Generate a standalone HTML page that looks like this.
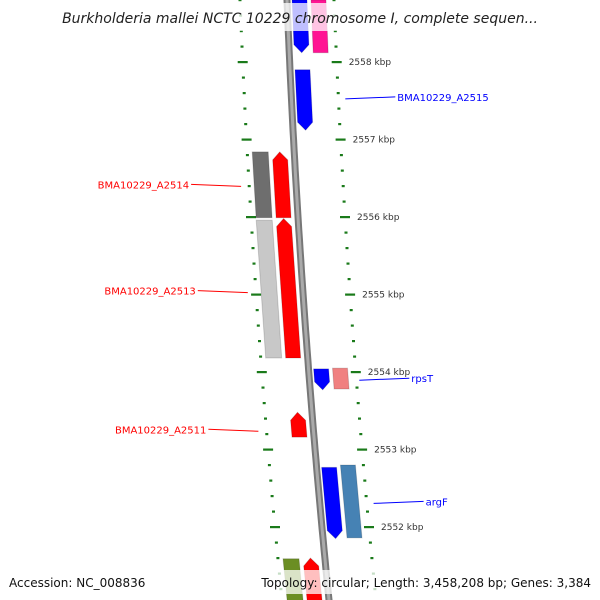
<!DOCTYPE html>
<html><head><meta charset="utf-8"><style>
html,body{margin:0;padding:0;background:#fff}
svg{display:block;font-family:"DejaVu Sans","Liberation Sans",sans-serif}
</style></head><body>
<svg id="map" width="600" height="600" viewBox="0 0 600 600" xmlns="http://www.w3.org/2000/svg">
<g id="ticks"></g>
<g id="backbone"></g>
<g id="features"></g>
<g id="labels"></g>
<rect x="0" y="3" width="600" height="28" fill="#fff" opacity="0.75"/>
<text x="300" y="23" text-anchor="middle" font-size="14" font-style="italic" fill="#222">Burkholderia mallei NCTC 10229 chromosome I, complete sequen...</text>
<rect x="0" y="570" width="600" height="24" fill="#fff" opacity="0.75"/>
<text x="9" y="587" font-size="12" fill="#111">Accession: NC_008836</text>
<text x="591" y="587" text-anchor="end" font-size="12" fill="#111">Topology: circular; Length: 3,458,208 bp; Genes: 3,384</text>
</svg>
<script>
// data
const geneNames = ["top-blue","top-magenta","BMA10229_A2515","grey-a","BMA10229_A2514","grey-b","BMA10229_A2513","rpsT","rpsT-partner","BMA10229_A2511","argF","argF-partner","olive","bottom-red"];
const geneStart = [2558.8,2558.8,2557.90,2556.84,2556.84,2555.96,2555.98,2554.04,2554.05,2553.48,2552.77,2552.80,2551.59,2551.60];
const geneEnd   = [2558.12,2558.12,2557.12,2555.99,2555.99,2554.18,2554.18,2553.77,2553.78,2553.16,2551.85,2551.86,2551.0,2551.0];
const geneTrack = [0,1,0,3,2,3,2,0,1,2,0,1,3,2];
const geneDir   = [-1,0,-1,0,1,0,1,-1,0,1,-1,0,0,1];
const geneColor = ["#0000ff","#ff1493","#0000ff","#6e6e6e","#ff0000","#c8c8c8","#ff0000","#0000ff","#f08080","#ff0000","#0000ff","#4682b4","#6b8e23","#ff0000"];
const labelText = ["BMA10229_A2515","BMA10229_A2514","BMA10229_A2513","BMA10229_A2511","rpsT","argF"];
const labelKbp  = [2557.55,2556.42,2555.05,2553.26,2553.92,2552.33];
const labelSide = [1,-1,-1,-1,1,1];
const labelColor= ["#0000ff","#ff0000","#ff0000","#ff0000","#0000ff","#0000ff"];
const majorTicks = [2558,2557,2556,2555,2554,2553,2552];

const NS="http://www.w3.org/2000/svg";
function yOf(k){return 62+(2558-k)*77.5;}
function xc(y){return 287+0.04*y+0.00005*y*y;}
function mk(tag,attrs,parent){const e=document.createElementNS(NS,tag);for(const a in attrs)e.setAttribute(a,attrs[a]);parent.appendChild(e);return e;}
const trackOff=[[5,20],[24,39],[-22,-7],[-42,-26]];

// backbone
const bb=document.getElementById('backbone');
let d="";for(let y=-10;y<=610;y+=10){d+=(y<0?"M":"L")+xc(y).toFixed(1)+","+y;}
let p=mk('path',{d:d,stroke:'#777',"stroke-width":7,fill:'none'},bb);

p=mk('path',{d:d,stroke:'#aaa',"stroke-width":3,fill:'none'},bb);


// ticks
const tg=document.getElementById('ticks');
for(let i=0;i<=45;i++){
  const k=2551+i*0.2; const y=yOf(k); if(y<-5||y>605)continue;
  const major=majorTicks.some(m=>Math.abs(m-k)<0.01);
  const w=major?10:3;
  for(const s of [-1,1]){
    const x=xc(y)+s*47;
    const t=mk('rect',{x:(x-w/2).toFixed(1),y:(y-1).toFixed(1),width:w,height:2.2,fill:'#1a7a1a'},tg);
    
    
  }
}
majorTicks.forEach(m=>{
  const y=yOf(m);
  const t=mk('text',{x:(xc(y)+59).toFixed(1),y:(y+3).toFixed(1),"font-size":9,fill:'#333'},tg);
  t.textContent=m+" kbp";
  
  
});

// features
const fg=document.getElementById('features');
geneNames.forEach((n,i)=>{
  const y1=Math.max(yOf(geneStart[i]),-5), y2=Math.min(yOf(geneEnd[i]),605);
  const [o1,o2]=trackOff[geneTrack[i]];
  const a=8; let pts;
  const X=(y,o)=>(xc(y)+o).toFixed(1);
  if(geneDir[i]===-1){
    const ya=y2-a, ym=y2;
    pts=[[X(y1,o1),y1],[X(y1,o2),y1],[X(ya,o2),ya],[X(ym,(o1+o2)/2),ym],[X(ya,o1),ya]];
  }else if(geneDir[i]===1){
    const ya=y1+a;
    pts=[[X(y1,(o1+o2)/2),y1],[X(ya,o2),ya],[X(y2,o2),y2],[X(y2,o1),y2],[X(ya,o1),ya]];
  }else{
    pts=[[X(y1,o1),y1],[X(y1,o2),y1],[X(y2,o2),y2],[X(y2,o1),y2]];
  }
  const g=mk('polygon',{points:pts.map(q=>q.join(',')).join(' '),fill:geneColor[i],stroke:'rgba(0,0,0,0.15)',"stroke-width":1},fg);
  
  
});

// labels
const lg=document.getElementById('labels');
labelText.forEach((t,i)=>{
  const y=yOf(labelKbp[i]); const s=labelSide[i];
  const x0=xc(y)+s*(s>0?(t==='rpsT'?50:54):55);
  const x1=x0+s*50;
  const l=mk('line',{x1:x0.toFixed(1),y1:(y+2).toFixed(1),x2:x1.toFixed(1),y2:y.toFixed(1),stroke:labelColor[i],"stroke-width":1},lg);
  
  
  const tx=mk('text',{x:(x1+s*2).toFixed(1),y:(y+4).toFixed(1),"font-size":10,fill:labelColor[i],"text-anchor":s>0?'start':'end'},lg);
  tx.textContent=t;
  
  
});
</script>
</body></html>
